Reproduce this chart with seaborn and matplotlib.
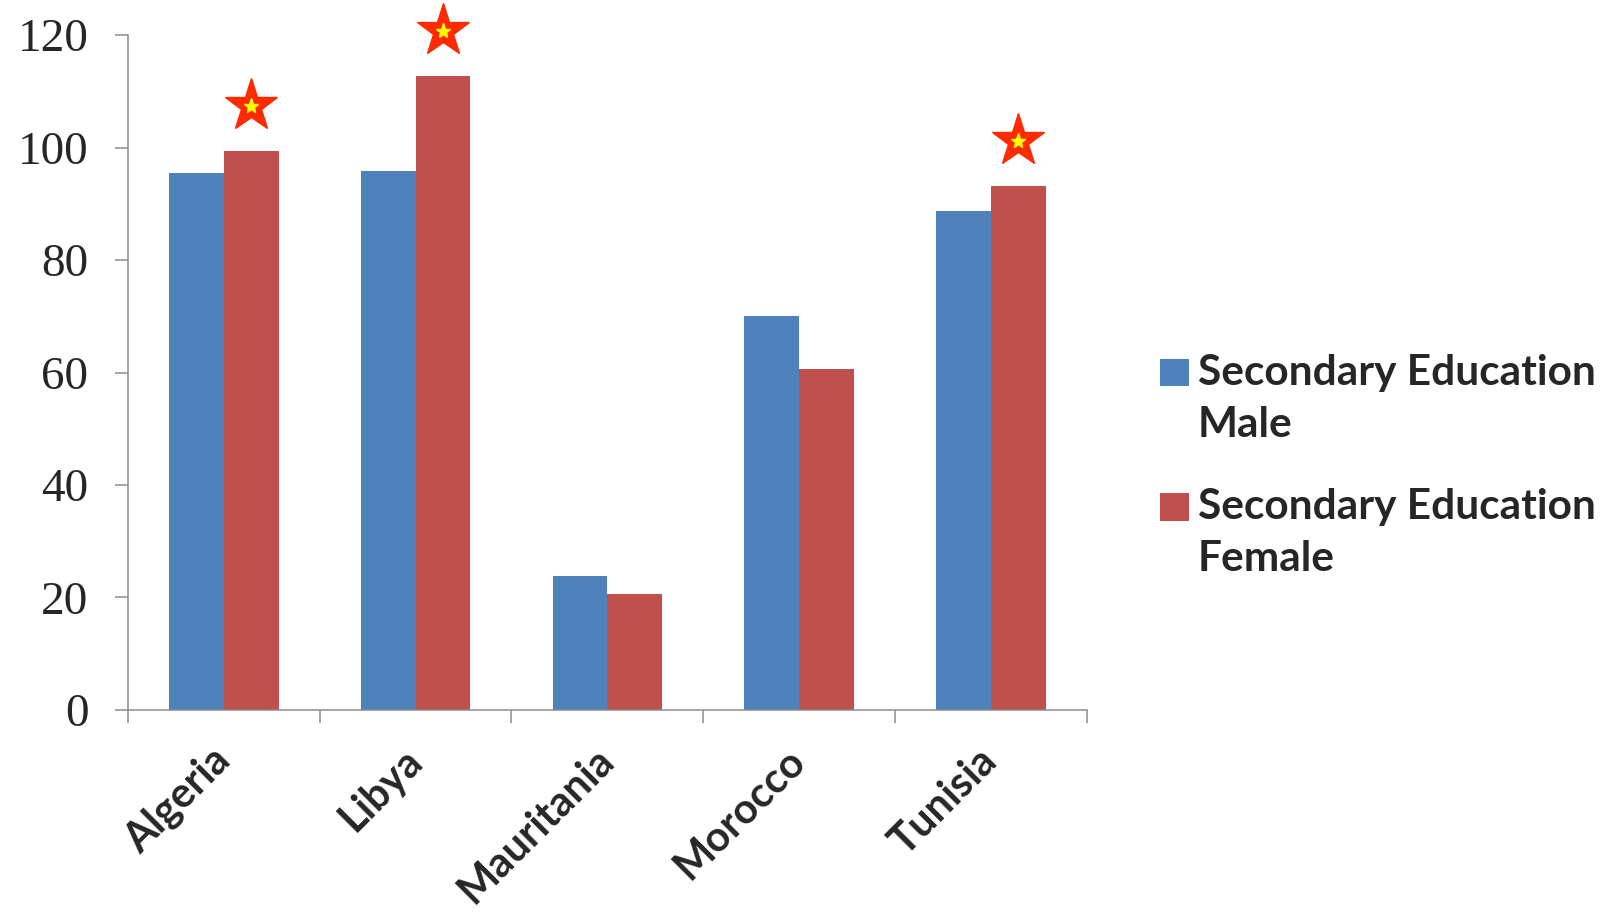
import matplotlib
matplotlib.use("Agg")
import matplotlib.pyplot as plt
import seaborn as sns
import pandas as pd
import numpy as np

# Datos
paises = ["Algeria", "Libya", "Mauritania", "Morocco", "Tunisia"]
hombres = [95.5, 95.9, 23.9, 70.1, 88.8]
mujeres = [99.4, 112.7, 20.6, 60.6, 93.2]
series = ["Secondary Education\nMale", "Secondary Education\nFemale"]
estrellas = ["Algeria", "Libya", "Tunisia"]
yticks = [0, 20, 40, 60, 80, 100, 120]

df = pd.DataFrame({"pais": paises * 2,
                   "valor": hombres + mujeres,
                   "serie": [series[0]] * len(paises) + [series[1]] * len(paises)})

sns.set_style("white")
gris = "#8C8C8C"

fig = plt.figure(figsize=(16.1, 9.14), dpi=100)
ax = fig.add_axes([0.0795, 0.2232, 0.5955, 0.7385])
ancho = 0.57
sns.barplot(data=df, x="pais", y="valor", hue="serie", order=paises,
            hue_order=series, palette=["#4F81BD", "#C0504D"], width=ancho,
            saturation=1, linewidth=0, ax=ax)

## Estrellas sobre las barras de mujeres
for p in estrellas:
    i = paises.index(p)
    x = i + ancho / 4
    y = mujeres[i] + 8.0
    ax.plot(x, y, marker="*", ms=40, color="#FF2A00", mec="#FF2A00", clip_on=False, zorder=5)
    ax.plot(x, y, marker="*", ms=11, color="#FFFF00", mec="#FFFF00", clip_on=False, zorder=6)

## Ejes
ax.set_ylim(0, 120)
ax.set_xlim(-0.5, len(paises) - 0.5)
ax.set_yticks(yticks)
ax.set_yticklabels([str(v) for v in yticks], fontfamily="Liberation Serif", fontsize=34)
ax.set_xticks(np.arange(-0.5, len(paises), 1))
ax.set_xticklabels([""] * (len(paises) + 1))
ax.set_xticks(range(len(paises)), minor=True)
ax.set_xticklabels(paises, minor=True, rotation=45, ha="right", va="center",
                   rotation_mode="anchor", fontfamily="Lato", fontweight="bold", fontsize=30)
ax.tick_params(axis="y", left=True, direction="out", length=9.5, width=1.1, color=gris, pad=19)
ax.tick_params(axis="x", which="major", bottom=True, direction="out", length=9, width=1.1, color=gris)
ax.tick_params(axis="x", which="minor", bottom=True, length=0, pad=32)
ax.set_xlabel("")
ax.set_ylabel("")
for s in ["top", "right"]:
    ax.spines[s].set_visible(False)
for s in ["left", "bottom"]:
    ax.spines[s].set_color(gris)
    ax.spines[s].set_linewidth(1.1)

## Leyenda
h, l = ax.get_legend_handles_labels()
ax.legend_.remove()
leg = ax.legend(h, l, loc="center left", bbox_to_anchor=(0.7205, 0.49),
                bbox_transform=fig.transFigure, frameon=False,
                prop={"family": "Lato", "weight": "bold", "size": 30.5},
                handlelength=0.69, handleheight=0.63, handletextpad=0.2,
                labelspacing=1.05, borderpad=0, borderaxespad=0)
for t in leg.get_texts():
    t.set_linespacing(1.45)
for hd in leg.legend_handles:
    hd.set_y(hd.get_y() + 19.5)

plt.savefig("out.png", dpi=100)
